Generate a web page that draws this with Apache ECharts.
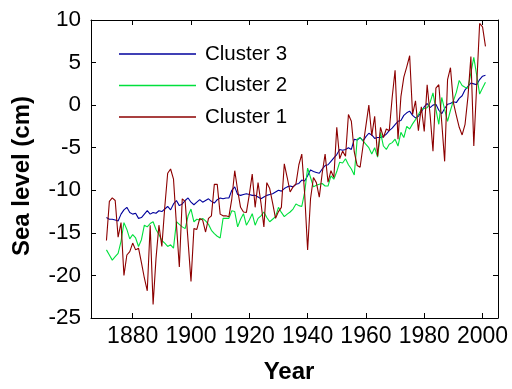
<!DOCTYPE html>
<html>
<head>
<meta charset="utf-8">
<script src="https://cdn.jsdelivr.net/npm/echarts@6/dist/echarts.min.js"></script>
<style>
html,body{margin:0;padding:0;background:#fff;}
#chart{width:512px;height:389px;}
</style>
</head>
<body>
<div id="chart"></div>
<script>
var firstYear = 1871;
var xTicks = [1880, 1900, 1920, 1940, 1960, 1980, 2000];
var seriesNames = ['Cluster 3', 'Cluster 2', 'Cluster 1'];

var cluster3 = [
  -13.2,-13.4,-13.4,-13.5,-13.6,-12.8,-12.3,-12.0,-12.6,-12.8,
  -12.7,-13.3,-13.2,-12.8,-12.4,-12.8,-12.6,-12.7,-12.4,-12.5,
  -12.2,-11.9,-12.3,-11.6,-11.2,-11.8,-11.6,-11.2,-10.9,-11.4,
  -11.7,-11.4,-11.1,-11.4,-11.2,-11.0,-11.3,-11.5,-11.1,-10.9,
  -11.0,-10.9,-10.9,-10.0,-9.6,-10.5,-10.6,-10.5,-10.4,-10.5,
  -10.6,-10.6,-10.8,-11.0,-10.8,-10.6,-10.5,-10.4,-10.2,-10.0,
  -10.1,-9.8,-9.6,-9.5,-9.6,-9.3,-9.2,-8.8,-8.9,-8.3,
  -7.6,-7.8,-7.9,-8.0,-7.5,-7.1,-7.0,-6.6,-6.2,-5.8,
  -5.2,-5.3,-5.2,-5.0,-5.2,-4.0,-4.1,-3.8,-4.2,-3.7,
  -3.3,-3.5,-3.9,-3.8,-3.8,-3.7,-3.4,-3.0,-2.7,-2.3,
  -1.9,-1.8,-1.2,-0.9,-0.7,-1.2,-1.5,-1.3,-0.8,-0.2,
  0.2,-0.3,0.0,0.1,-0.6,-1.0,-0.4,0.1,0.2,0.4,
  0.3,0.8,1.1,1.8,2.2,2.6,2.5,2.4,3.0,3.4,
  3.5
];
var cluster2 = [
  -17.0,-17.6,-18.2,-17.8,-17.4,-16.0,-13.8,-14.6,-15.7,-15.2,
  -15.6,-16.6,-15.8,-14.1,-14.3,-13.9,-13.7,-14.6,-15.2,-15.9,
  -16.2,-16.6,-16.4,-16.8,-13.7,-14.0,-14.3,-14.5,-13.0,-12.2,
  -13.7,-13.4,-13.5,-13.3,-13.6,-14.0,-14.7,-15.1,-15.4,-15.6,
  -13.3,-13.3,-13.3,-12.4,-12.5,-14.3,-13.4,-12.75,-14.1,-13.5,
  -12.75,-14.1,-13.3,-13.0,-12.55,-13.2,-13.7,-13.4,-13.1,-12.0,
  -12.6,-13.1,-12.8,-12.55,-12.2,-11.6,-11.8,-11.9,-10.2,-7.4,
  -8.5,-9.6,-9.4,-9.3,-9.2,-9.5,-9.5,-8.3,-8.7,-7.8,
  -6.7,-6.8,-6.3,-7.0,-7.5,-8.2,-4.0,-3.8,-4.2,-4.6,
  -5.0,-5.75,-5.0,-6.1,-3.2,-4.8,-5.2,-4.6,-4.4,-4.0,
  -4.8,-3.2,-3.8,-2.5,-2.8,-2.2,-1.7,-1.1,-0.5,-0.4,
  -0.3,0.3,1.45,-0.5,-2.25,0.9,-0.5,-1.9,-0.6,0.5,
  1.5,2.9,2.3,2.1,2.0,3.8,5.6,3.5,1.3,2.0,
  2.7
];
var cluster1 = [
  -15.9,-11.3,-10.9,-11.2,-15.5,-13.8,-20.0,-17.6,-17.2,-16.2,
  -17.0,-16.8,-18.5,-20.3,-21.8,-14.1,-23.4,-18.0,-14.1,-16.6,
  -12.0,-8.0,-7.5,-8.7,-14.0,-19.0,-11.0,-11.3,-16.0,-20.7,
  -14.5,-14.6,-13.3,-13.5,-14.9,-13.3,-13.0,-9.3,-9.3,-12.8,
  -13.0,-13.0,-13.1,-11.0,-7.7,-10.0,-12.0,-12.55,-12.6,-10.5,
  -8.1,-12.0,-9.1,-11.5,-14.3,-9.1,-9.8,-11.5,-13.3,-12.5,
  -12.0,-6.9,-8.5,-10.2,-9.6,-9.25,-7.0,-5.75,-10.5,-17.0,
  -11.0,-8.5,-9.1,-10.8,-8.0,-5.75,-9.05,-7.7,-8.5,-2.6,
  -6.3,-5.4,-6.0,-1.1,-1.9,-5.5,-7.1,-7.3,-4.8,-2.4,
  0.0,-3.6,-1.3,-6.0,-2.6,-3.8,-2.8,-3.0,0.9,4.1,
  -4.0,1.0,3.3,4.5,5.8,-1.1,0.5,-3.0,-0.2,-3.1,
  2.4,-1.1,-5.4,2.0,2.4,-2.0,-6.6,3.0,4.4,0.3,
  -1.2,-2.6,-3.5,-2.25,1.0,5.7,-4.8,2.4,9.6,9.2,
  6.9
];

function pairs(vals) {
  var out = [];
  for (var i = 0; i < vals.length; i++) out.push([firstYear + i, vals[i]]);
  return out;
}

var colors = ['#00009c', '#00e03c', '#8c0000'];
var FONT = '"Liberation Sans", Arial, sans-serif';
var xMin = 1865.7, xMax = 2005.3;

var axisLineStyle = { show: true, onZero: false, lineStyle: { color: '#000', width: 1 } };

var chart = echarts.init(document.getElementById('chart'), null, { renderer: 'canvas' });
chart.setOption({
  animation: false,
  backgroundColor: '#fff',
  grid: { left: 91, right: 14, top: 20, bottom: 69, containLabel: false },
  legend: {
    orient: 'vertical',
    left: 119,
    top: 43,
    padding: 0,
    itemWidth: 77,
    itemHeight: 1.5,
    itemGap: 9.5,
    icon: 'rect',
    data: seriesNames,
    textStyle: { fontFamily: FONT, fontSize: 20.5, color: '#000', lineHeight: 22, padding: [0, 0, 0, 4] }
  },
  xAxis: [{
    type: 'value', min: xMin, max: xMax, position: 'bottom',
    name: 'Year', nameLocation: 'middle', nameGap: 42,
    nameTextStyle: { fontFamily: FONT, fontSize: 24, fontWeight: 'bold', color: '#000', padding: [0, 11, 0, 0] },
    axisLine: axisLineStyle,
    axisTick: { show: true, inside: true, length: 5, customValues: xTicks, lineStyle: { color: '#000' } },
    axisLabel: { customValues: xTicks, fontFamily: FONT, fontSize: 23, color: '#000', margin: 7,
                 formatter: function (v) { return String(Math.round(v)); } },
    splitLine: { show: false }
  }, {
    type: 'value', min: xMin, max: xMax, position: 'top',
    axisLine: axisLineStyle,
    axisTick: { show: true, inside: true, length: 5, customValues: xTicks, lineStyle: { color: '#000' } },
    axisLabel: { show: false },
    splitLine: { show: false }
  }],
  yAxis: [{
    type: 'value', min: -25, max: 10, interval: 5, position: 'left',
    name: 'Sea level (cm)', nameLocation: 'middle', nameGap: 57, nameRotate: 90,
    nameTextStyle: { fontFamily: FONT, fontSize: 24, fontWeight: 'bold', color: '#000', padding: [0, 14, 0, 0] },
    axisLine: axisLineStyle,
    axisTick: { show: true, inside: true, length: 5, lineStyle: { color: '#000' } },
    axisLabel: { fontFamily: FONT, fontSize: 22.5, color: '#000', margin: 10 },
    splitLine: { show: false }
  }, {
    type: 'value', min: -25, max: 10, interval: 5, position: 'right',
    axisLine: axisLineStyle,
    axisTick: { show: true, inside: true, length: 5, lineStyle: { color: '#000' } },
    axisLabel: { show: false },
    splitLine: { show: false }
  }],
  series: [
    { name: seriesNames[0], type: 'line', data: pairs(cluster3), showSymbol: false, symbol: 'none',
      lineStyle: { color: colors[0], width: 1.1 }, itemStyle: { color: colors[0] } },
    { name: seriesNames[1], type: 'line', data: pairs(cluster2), showSymbol: false, symbol: 'none',
      lineStyle: { color: colors[1], width: 1.1 }, itemStyle: { color: colors[1] } },
    { name: seriesNames[2], type: 'line', data: pairs(cluster1), showSymbol: false, symbol: 'none',
      lineStyle: { color: colors[2], width: 1.1 }, itemStyle: { color: colors[2] } }
  ]
});
</script>
</body>
</html>
